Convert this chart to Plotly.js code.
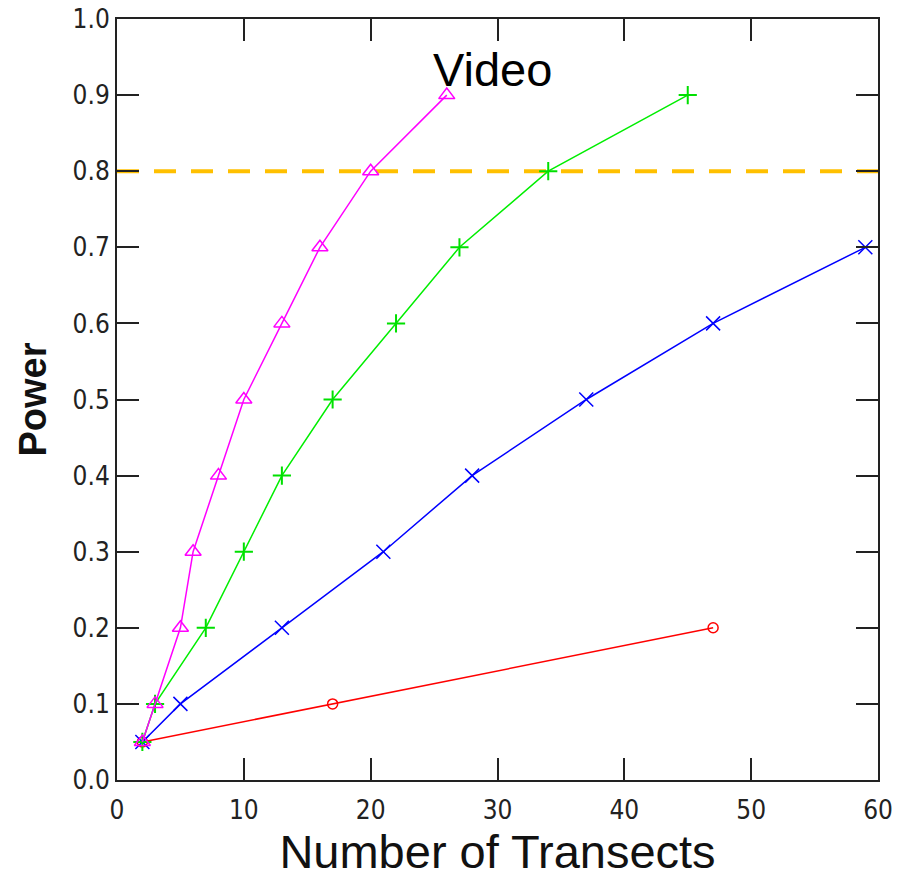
<!DOCTYPE html>
<html>
<head>
<meta charset="utf-8">
<script src="https://cdn.plot.ly/plotly-3.0.1.min.js"></script>
<style>html,body{margin:0;padding:0;background:#fff;}</style>
</head>
<body>
<div id="chart" style="width:910px;height:878px;"></div>
<script>
// Data
const magentaX = [2, 3, 5, 6, 8, 10, 13, 16, 20, 26];
const magentaY = [0.05, 0.1, 0.2, 0.3, 0.4, 0.5, 0.6, 0.7, 0.8, 0.9];
const greenX = [2, 3, 7, 10, 13, 17, 22, 27, 34, 45];
const greenY = [0.05, 0.1, 0.2, 0.3, 0.4, 0.5, 0.6, 0.7, 0.8, 0.9];
const blueX = [2, 5, 13, 21, 28, 37, 47, 59];
const blueY = [0.05, 0.1, 0.2, 0.3, 0.4, 0.5, 0.6, 0.7];
const redX = [2, 17, 47];
const redY = [0.05, 0.1, 0.2];
const thresholdX = [0, 60];
const thresholdY = [0.8, 0.8];

const traces = [
  {x: thresholdX, y: thresholdY, mode: 'lines', line: {color: '#FFC000', width: 4, dash: '22px,15px'}, hoverinfo: 'skip'},
  {x: redX, y: redY, mode: 'lines+markers', line: {color: '#FF0000', width: 1.5},
   marker: {symbol: 'circle-open', size: 10, color: '#FF0000', line: {width: 1.5}}},
  {x: blueX, y: blueY, mode: 'lines+markers', line: {color: '#0000FF', width: 1.5},
   marker: {symbol: 'x-thin-open', size: 14, color: '#0000FF', line: {width: 1.5}}},
  {x: greenX, y: greenY, mode: 'lines+markers', line: {color: '#00EE00', width: 1.5},
   marker: {symbol: 'cross-thin-open', size: 13, color: '#00E000', line: {width: 2}}},
  {x: magentaX, y: magentaY, mode: 'lines+markers', line: {color: '#FF00FF', width: 1.5},
   marker: {symbol: 'triangle-up-open', size: 14, color: '#FF00FF', line: {width: 1.5}}}
];

const tickFont = {family: 'DejaVu Sans Condensed, DejaVu Sans', size: 26, color: '#222'};

const layout = {
  width: 910, height: 878,
  margin: {l: 117, r: 32, t: 19, b: 98},
  paper_bgcolor: '#fff', plot_bgcolor: '#fff',
  showlegend: false,
  xaxis: {
    range: [0, 60], dtick: 10, tick0: 0,
    ticks: 'inside', ticklen: 22, tickwidth: 2, tickcolor: '#222',
    showline: true, linecolor: '#222', linewidth: 2, mirror: 'ticks',
    showgrid: false, zeroline: false,
    tickfont: tickFont, ticklabelstandoff: 6,
    title: {text: 'Number of Transects', font: {family: 'Liberation Sans', size: 47, color: '#111'}, standoff: 5}
  },
  yaxis: {
    range: [0, 1], dtick: 0.1, tick0: 0, tickformat: '.1f',
    ticks: 'inside', ticklen: 22, tickwidth: 2, tickcolor: '#222',
    showline: true, linecolor: '#222', linewidth: 2, mirror: 'ticks',
    showgrid: false, zeroline: false,
    tickfont: tickFont,
    title: {text: '<b>Power</b>', font: {family: 'Liberation Sans', size: 38, color: '#111'}, standoff: 14}
  },
  annotations: [
    {x: 29.6, y: 0.933, xref: 'x', yref: 'y', text: 'Video', showarrow: false,
     font: {family: 'Liberation Sans', size: 47, color: '#000'}}
  ]
};

Plotly.newPlot('chart', traces, layout, {displayModeBar: false, staticPlot: true});
</script>
</body>
</html>
